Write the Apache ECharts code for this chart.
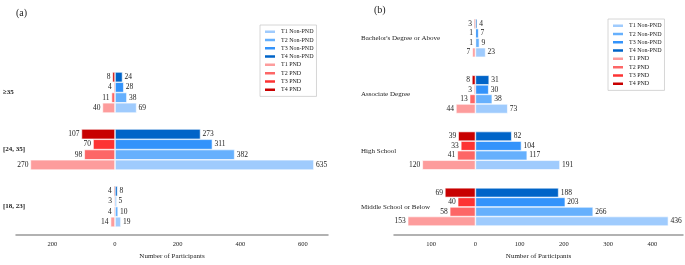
<!DOCTYPE html>
<html>
<head>
<meta charset="utf-8">
<script src="https://cdn.jsdelivr.net/npm/echarts@6/dist/echarts.min.js"></script>
<style>
  html, body { margin: 0; padding: 0; background: #fff; }
  #chart { width: 685px; height: 265px; }
</style>
</head>
<body>
<div id="chart"></div>
<script>
// (a) age groups, listed bottom to top
var ageGroups = ['[18, 23]', '[24, 35]', '≥35'];
var ageNonPnd = {
  T1: [19, 635, 69],
  T2: [10, 382, 38],
  T3: [5, 311, 28],
  T4: [8, 273, 24]
};
var agePnd = {
  T1: [14, 270, 40],
  T2: [4, 98, 11],
  T3: [3, 70, 4],
  T4: [4, 107, 8]
};

// (b) education, listed bottom to top
var eduGroups = ['Middle School or Below', 'High School', 'Associate Degree', "Bachelor's Degree or Above"];
var eduNonPnd = {
  T1: [436, 191, 73, 23],
  T2: [266, 117, 38, 9],
  T3: [203, 104, 30, 7],
  T4: [188, 82, 31, 4]
};
var eduPnd = {
  T1: [153, 120, 44, 7],
  T2: [58, 41, 13, 1],
  T3: [40, 33, 3, 1],
  T4: [69, 39, 8, 3]
};

var waves = ['T1', 'T2', 'T3', 'T4'];
var blues = { T1: '#9fcbfd', T2: '#66b0fd', T3: '#3393fb', T4: '#0064c8' };
var reds = { T1: '#fd9c9c', T2: '#fd6666', T3: '#fd3333', T4: '#c80000' };
var legendNames = ['T1 Non-PND', 'T2 Non-PND', 'T3 Non-PND', 'T4 Non-PND', 'T1 PND', 'T2 PND', 'T3 PND', 'T4 PND'];

var serif = '"Liberation Serif", "DejaVu Serif", serif';

function makeSeries(idx, nonPnd, pnd) {
  var out = [];
  // first stack is drawn on top, so go T4 -> T1
  waves.slice().reverse().forEach(function (t) {
    out.push({
      name: t + ' Non-PND',
      type: 'bar',
      xAxisIndex: idx, yAxisIndex: idx,
      stack: 'p' + idx + t,
      data: nonPnd[t],
      itemStyle: { color: blues[t], borderColor: '#fff', borderWidth: 0.6 },
      label: { show: true, position: 'right', distance: 2, fontFamily: serif, fontSize: 7.5, color: '#222' }
    });
    out.push({
      name: t + ' PND',
      type: 'bar',
      xAxisIndex: idx, yAxisIndex: idx,
      stack: 'p' + idx + t,
      data: pnd[t].map(function (v) { return -v; }),
      itemStyle: { color: reds[t], borderColor: '#fff', borderWidth: 0.6 },
      label: {
        show: true, position: 'left', distance: 2, fontFamily: serif, fontSize: 7.5, color: '#222',
        formatter: function (p) { return Math.abs(p.value); }
      }
    });
  });
  return out;
}

function valueAxis(idx, min, max) {
  return {
    type: 'value', gridIndex: idx, min: min, max: max,
    name: 'Number of Participants', nameLocation: 'middle', nameGap: 17,
    nameTextStyle: { fontFamily: serif, fontSize: 7, color: '#222' },
    axisLine: { show: true, onZero: false, lineStyle: { color: '#999', width: 1.5 } },
    axisTick: { show: false },
    splitLine: { show: false },
    axisLabel: {
      fontFamily: serif, fontSize: 6.5, color: '#222', margin: 6,
      showMinLabel: false, showMaxLabel: false,
      formatter: function (v) { return Math.abs(v); }
    }
  };
}

function catAxis(idx, cats, margin, bold) {
  return {
    type: 'category', gridIndex: idx, data: cats,
    axisLine: { show: false }, axisTick: { show: false },
    axisLabel: { align: 'left', margin: margin, fontFamily: serif, fontSize: 7, color: '#222', fontWeight: bold ? 'bold' : 'normal' }
  };
}

function legend(left, top) {
  return {
    data: legendNames, orient: 'vertical', left: left, top: top,
    itemWidth: 12, itemHeight: 4.5, itemGap: 1, icon: 'rect',
    padding: [3, 3, 3, 3],
    borderColor: '#ccc', borderWidth: 0.8, backgroundColor: '#fff',
    textStyle: { fontFamily: serif, fontSize: 6, lineHeight: 7.3, color: '#222' }
  };
}

var chart = echarts.init(document.getElementById('chart'), null, { renderer: 'canvas' });
chart.setOption({
  animation: false,
  backgroundColor: '#fff',
  title: [
    { text: '(a)', left: 11, top: 3, textStyle: { fontFamily: serif, fontSize: 10, fontWeight: 'normal', color: '#222' } },
    { text: '(b)', left: 369, top: 0, textStyle: { fontFamily: serif, fontSize: 10, fontWeight: 'normal', color: '#222' } }
  ],
  legend: [legend(260, 25), legend(608, 19)],
  grid: [
    { left: 16, right: 357, top: 64, bottom: 27 },
    { left: 394, right: 2, top: 10, bottom: 27 }
  ],
  xAxis: [valueAxis(0, -316, 680), valueAxis(1, -184, 469)],
  yAxis: [catAxis(0, ageGroups, 13, true), catAxis(1, eduGroups, 33, false)],
  series: makeSeries(0, ageNonPnd, agePnd).concat(makeSeries(1, eduNonPnd, eduPnd)).map(function (s) {
    s.barCategoryGap = s.xAxisIndex === 0 ? '28%' : '32%';
    s.barGap = '0%';
    return s;
  })
});
</script>
</body>
</html>
